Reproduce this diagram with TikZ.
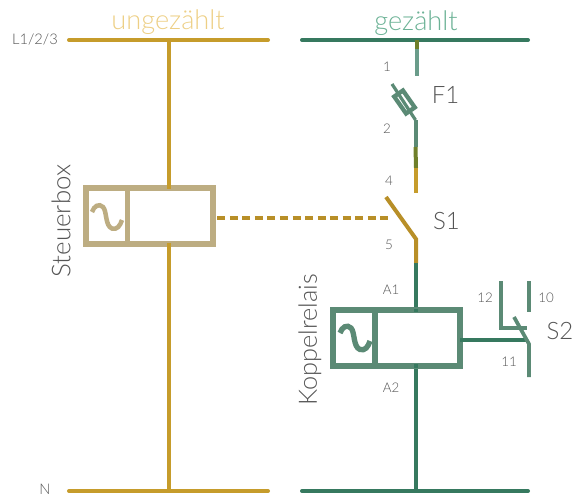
\documentclass[tikz,border=0pt]{standalone}
\usepackage{fontspec}
\setmainfont{Lato Light}
\definecolor{gold}{HTML}{C69C2B}
\definecolor{golddk}{HTML}{B88F28}
\definecolor{goldlt}{HTML}{EDCF85}
\definecolor{teal1}{HTML}{36795F}
\definecolor{teal2}{HTML}{5B8A75}
\definecolor{teal3}{HTML}{6CB296}
\definecolor{teal4}{HTML}{6A9C8A}
\definecolor{olive}{HTML}{6F7F2A}
\definecolor{sand}{HTML}{BDAD82}
\definecolor{txt}{HTML}{555555}
\tikzset{
 wire/.style={line width=3pt},
 bar/.style={line width=3pt,line cap=round},
 coilbox/.style={draw,fill=white,line width=4.2pt,line join=miter},
 lbl/.style={text=txt,font=\fontsize{10}{12}\selectfont,inner sep=0pt},
 big/.style={text=txt,font=\fontsize{18}{20}\selectfont,inner sep=0pt},
 head/.style={font=\fontsize{20.4}{24}\selectfont,inner sep=0pt},
}
\begin{document}
\begin{tikzpicture}[x=0.75pt,y=-0.75pt]
\useasboundingbox (0,0) rectangle (581,497);
% bars
\coordinate (LT1) at (69,40); \coordinate (LT2) at (268,40);
\coordinate (RT1) at (302,40); \coordinate (RT2) at (528,40);
\coordinate (LB1) at (69,491); \coordinate (LB2) at (268,491);
\coordinate (RB1) at (302,491); \coordinate (RB2) at (528,491);
\draw[bar,gold] (LT1) -- (LT2);
\draw[bar,gold] (LB1) -- (LB2);
\draw[bar,teal1] (RT1) -- (RT2);
\draw[bar,teal1] (RB1) -- (RB2);
% left branch
\coordinate (LV1) at (169,40); \coordinate (LV2) at (169,491);
\draw[wire,gold] (LV1) -- (LV2);
% steuerbox
\node[coilbox,draw=sand,minimum width=95.25pt,minimum height=42pt,inner sep=0pt,anchor=center] (SB) at (149.5,216) {};
\coordinate (SBd1) at (127.7,188); \coordinate (SBd2) at (127.7,244);
\draw[sand,line width=4pt] (SBd1) -- (SBd2);
\draw[sand,line width=3.4pt] (92,212) .. controls (94,206) and (99,203) .. (103,207) .. controls (107,211) and (105,226) .. (112,228.5) .. controls (117,230) and (120,226) .. (122,220);
\draw[gold,line width=3pt] (169,185) -- (169,189);
\draw[gold,line width=3pt] (169,243) -- (169,248);
% dashed actuator
\coordinate (S1m) at (400,218);
\draw[golddk,line width=3pt,dash pattern=on 6pt off 3.4pt] (SB.east)++(1.5,2) -- (388,218);
% right branch
\coordinate (RV0) at (416.5,40); \coordinate (RV1) at (416.5,49); \coordinate (RV2) at (416.5,76);
\draw[wire,olive] (RV0) -- (RV1);
\draw[wire,teal4] (RV1) -- (RV2);
% fuse
\coordinate (Fa) at (392,84); \coordinate (Fb) at (415.5,120); \coordinate (Fc) at (415.5,147);
\coordinate (Fd) at (416,168); \coordinate (Fe) at (416,193);
\node[draw=teal2,fill=white,line width=3.2pt,minimum width=15.5pt,minimum height=8pt,inner sep=0pt,rotate=-55] (F) at (404.5,102) {};
\draw[teal2,line width=2.4pt] (Fa) -- (Fb);
\draw[wire,teal2] (Fb) -- (Fc);
\draw[wire,olive] (Fc) -- (Fd);
\draw[wire,gold] (Fd) -- (Fe);
% S1
\coordinate (Sa) at (386,197); \coordinate (Sb) at (416,239); \coordinate (Sc) at (416,263);
\draw[golddk,wire,line join=miter] (Sa) -- (Sb) -- (Sc);
% Koppelrelais wires
\coordinate (KV) at (416,491);
\draw[wire,teal1] (Sc) -- (KV);
\node[coilbox,draw=teal2,minimum width=95.25pt,minimum height=42pt,inner sep=0pt] (KR) at (396.5,338) {};
\coordinate (KRd1) at (375,310); \coordinate (KRd2) at (375,366);
\draw[teal2,line width=4pt] (KRd1) -- (KRd2);
\draw[teal2,line width=4pt] (340,333) .. controls (342,327) and (347,324) .. (351,328) .. controls (355,332) and (353,347) .. (360,349.5) .. controls (365,351) and (368,347) .. (370,341);
\draw[teal1,line width=3pt] (416,308.5) -- (416,312);
\draw[teal1,line width=3pt] (416,364) -- (416,368);
% S2
\coordinate (Ka) at (460,340); \coordinate (Kb) at (526,340);
\draw[teal1,line width=2.8pt] (Ka) -- (Kb);
\coordinate (La) at (501,281); \coordinate (Lb) at (501,328); \coordinate (Lc) at (527,328);
\draw[teal2,line width=2.8pt] (La) -- (Lb) -- (Lc);
\coordinate (Ra) at (529,281); \coordinate (Rb) at (529,312);
\draw[teal2,line width=2.8pt] (Ra) -- (Rb);
\coordinate (Ba) at (514,317); \coordinate (Bb) at (529,344); \coordinate (Bc) at (529,377);
\draw[teal2,line width=2.8pt,line join=miter] (Ba) -- (Bb) -- (Bc);
% text
\node[head,text=goldlt] (t1) at (168,22) {ungezählt};
\node[head,text=teal3] (t2) at (416,23) {gezählt};
\node[lbl,font=\fontsize{11}{13}\selectfont] (t3) at (35,39) {L1/2/3};
\node[lbl,font=\fontsize{11}{13}\selectfont] (t4) at (45,489) {N};
\node[big,font=\fontsize{19.4}{22}\selectfont,rotate=90] (t5) at (61,221) {Steuerbox};
\node[big,font=\fontsize{19}{22}\selectfont,rotate=90] (t6) at (310,340) {Koppelrelais};
\node[big] (t7) at (445.5,95) {F1};
\node[big] (t8) at (446.5,221) {S1};
\node[big] (t9) at (560,331) {S2};
\node[lbl] (n1) at (387,67) {1};
\node[lbl] (n2) at (387,129) {2};
\node[lbl] (n4) at (389,181) {4};
\node[lbl] (n5) at (389,245) {5};
\node[lbl] (nA1) at (391,290) {A1};
\node[lbl] (nA2) at (391,388) {A2};
\node[lbl] (n12) at (485,298) {12};
\node[lbl] (n10) at (546,298) {10};
\node[lbl] (n11) at (509,362) {11};
\end{tikzpicture}
\end{document}
